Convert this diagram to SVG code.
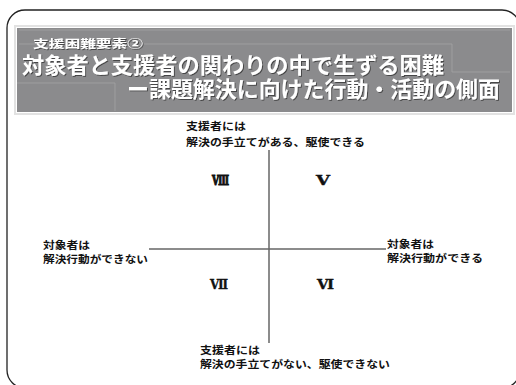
<svg xmlns="http://www.w3.org/2000/svg" width="516" height="385" viewBox="0 0 516 385">
<defs>
<style>
.jp{font-family:"Noto Sans CJK JP","Noto Sans CJK SC",sans-serif;font-weight:bold}
.lbl{font-size:10.5px;fill:#111}
.ttl{fill:#fff}
.num{font-family:"DejaVu Serif","Liberation Serif","Noto Sans CJK JP",serif;font-weight:bold;font-size:13px;fill:#111;stroke:#111;stroke-width:0.4}
.axis{stroke:#666;stroke-width:1.5;fill:none}
.inner{stroke:#a3a3a5;stroke-width:0.8;fill:none}
</style>
<filter id="sh" x="-5%" y="-20%" width="110%" height="140%">
<feDropShadow dx="1" dy="1" stdDeviation="0.6" flood-color="#2a2a2a" flood-opacity="0.7"/>
</filter>
</defs>
<rect x="0" y="0" width="516" height="385" fill="#fff"/>
<rect x="7" y="10" width="513" height="378" rx="18" ry="18" fill="none" stroke="#222" stroke-width="1.3"/>
<g id="title">
<rect x="15" y="26" width="499" height="88" fill="none" stroke="#e2e2e2" stroke-width="2"/>
<rect x="17" y="28" width="495" height="84" fill="#8b8b8d"/>
<path class="inner" d="M19 30H510M19 44H452V72H510M17 83H115V111"/>
<g filter="url(#sh)">
<text class="jp ttl" x="33" y="48" font-size="11.5" textLength="110" lengthAdjust="spacingAndGlyphs">支援困難要素②</text>
<text class="jp ttl" x="22" y="73" font-size="22" textLength="422" lengthAdjust="spacingAndGlyphs">対象者と支援者の関わりの中で生ずる困難</text>
<text class="jp ttl" x="127" y="97" font-size="22" textLength="373" lengthAdjust="spacingAndGlyphs">ー課題解決に向けた行動・活動の側面</text>
</g>
</g>
<g id="connectors">
<line class="axis" x1="269" y1="150" x2="269" y2="343"/>
<line class="axis" x1="149" y1="249" x2="386" y2="249"/>
</g>
<g id="top-label">
<text class="jp lbl" x="186" y="130" textLength="60" lengthAdjust="spacingAndGlyphs">支援者には</text>
<text class="jp lbl" x="186" y="146" textLength="179" lengthAdjust="spacingAndGlyphs">解決の手立てがある、駆使できる</text>
</g>
<g id="left-label">
<text class="jp lbl" x="43" y="249" textLength="47" lengthAdjust="spacingAndGlyphs">対象者は</text>
<text class="jp lbl" x="43" y="263" textLength="105" lengthAdjust="spacingAndGlyphs">解決行動ができない</text>
</g>
<g id="right-label">
<text class="jp lbl" x="387" y="248" textLength="47" lengthAdjust="spacingAndGlyphs">対象者は</text>
<text class="jp lbl" x="387" y="262" textLength="96" lengthAdjust="spacingAndGlyphs">解決行動ができる</text>
</g>
<g id="bottom-label">
<text class="jp lbl" x="200" y="354" textLength="60" lengthAdjust="spacingAndGlyphs">支援者には</text>
<text class="jp lbl" x="200" y="368" textLength="190" lengthAdjust="spacingAndGlyphs">解決の手立てがない、駆使できない</text>
</g>
<g id="q8"><text class="num" x="212" y="185" textLength="17" lengthAdjust="spacingAndGlyphs" style="stroke-width:1.1">Ⅷ</text></g>
<g id="q5"><text class="num" x="316" y="185" textLength="14" lengthAdjust="spacingAndGlyphs">Ⅴ</text></g>
<g id="q7"><text class="num" x="210" y="289" textLength="18" lengthAdjust="spacingAndGlyphs">Ⅶ</text></g>
<g id="q6"><text class="num" x="317" y="289" textLength="17" lengthAdjust="spacingAndGlyphs">Ⅵ</text></g>
</svg>
